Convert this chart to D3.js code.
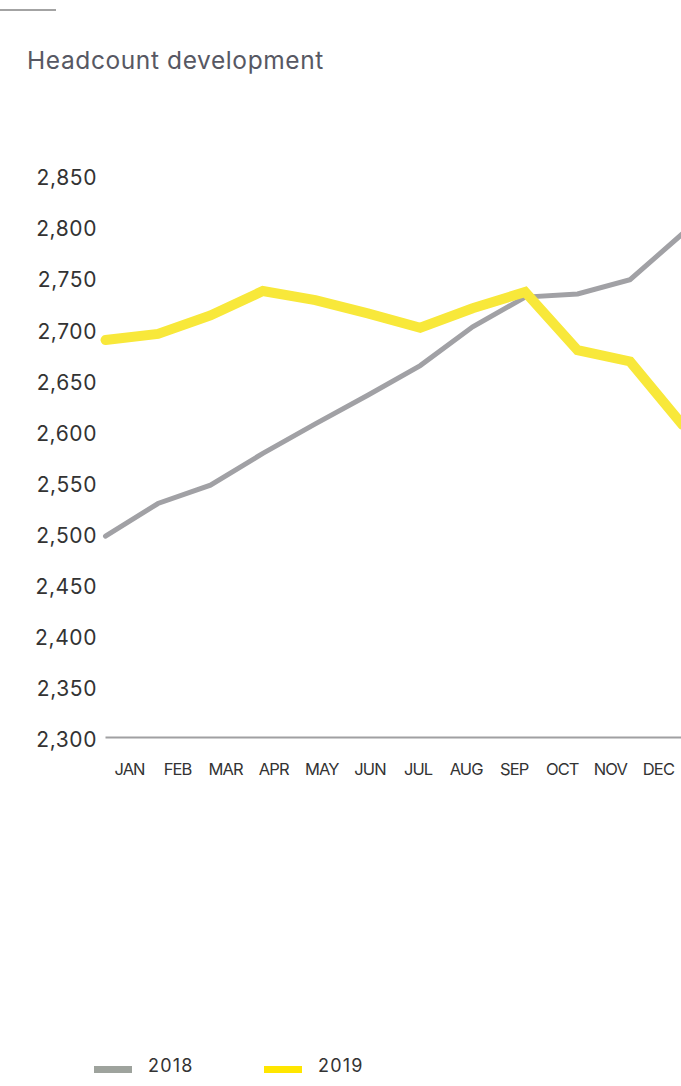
<!DOCTYPE html>
<html>
<head>
<meta charset="utf-8">
<script src="https://cdn.jsdelivr.net/npm/d3@7"></script>
<style>
  html, body { margin: 0; padding: 0; background: #ffffff; overflow: hidden; }
  svg { display: block; }
  text { font-family: Inter, "Noto Sans", sans-serif; }
</style>
</head>
<body>
<svg id="chart" width="681" height="1086"></svg>
<script>
// Monthly headcount, two years
const months = ["JAN", "FEB", "MAR", "APR", "MAY", "JUN", "JUL", "AUG", "SEP", "OCT", "NOV", "DEC"];
const headcount2018 = [2497, 2529, 2547, 2578, 2607, 2635, 2664, 2702, 2731, 2734, 2748, 2793];
const headcount2019 = [2689, 2695, 2713, 2737, 2728, 2715, 2701, 2720, 2736, 2679, 2668, 2606];
const yTicks = [2300, 2350, 2400, 2450, 2500, 2550, 2600, 2650, 2700, 2750, 2800, 2850];
const seriesNames = ["2018", "2019"];

const svg = d3.select("#chart");

// Plot extent
const left = 105.5, right = 682.5;
const yTop = 175.5, yBottom = 737.5;

const x = d3.scalePoint().domain(months).range([left, right]);
const xBand = d3.scaleBand().domain(months).range([left, right]);
const y = d3.scaleLinear().domain([2300, 2850]).range([yBottom, yTop]);

// Short rule at the top-left corner
svg.append("line")
  .attr("x1", 0).attr("x2", 56).attr("y1", 10).attr("y2", 10)
  .attr("stroke", "#a3a3a3").attr("stroke-width", 2);

// Title
svg.append("text")
  .attr("x", 27).attr("y", 69)
  .attr("font-size", 24.5)
  .attr("letter-spacing", 0.6)
  .attr("fill", "#575863")
  .text("Headcount development");

// Y axis labels
const yAxis = d3.axisLeft(y).tickValues(yTicks).tickFormat(d3.format(",")).tickSize(0).tickPadding(0);
const gy = svg.append("g").attr("transform", "translate(97,2.5)").call(yAxis);
gy.select(".domain").remove();
gy.selectAll("text")
  .attr("font-size", 21)
  .attr("letter-spacing", 0.6)
  .attr("fill", "#333333")
  .attr("font-family", "Inter, sans-serif");

// Baseline
svg.append("line")
  .attr("x1", left).attr("x2", 681).attr("y1", y(2300)).attr("y2", y(2300))
  .attr("stroke", "#a0a0a2").attr("stroke-width", 2);

// Month labels
const xAxis = d3.axisBottom(xBand).tickSize(0).tickPadding(0);
const gx = svg.append("g").attr("transform", "translate(0,763)").call(xAxis);
gx.select(".domain").remove();
gx.selectAll("text")
  .attr("font-size", 16.5)
  .attr("fill", "#333333")
  .attr("letter-spacing", -0.9)
  .attr("font-family", "Inter, sans-serif");

// Lines
const line = d3.line().x((d, i) => x(months[i])).y(d => y(d));

svg.append("path")
  .datum(headcount2018)
  .attr("d", line)
  .attr("fill", "none")
  .attr("stroke", "#a1a1a5")
  .attr("stroke-width", 5)
  .attr("stroke-linecap", "round")
  .attr("stroke-linejoin", "miter");

svg.append("path")
  .datum(headcount2019)
  .attr("d", line)
  .attr("fill", "none")
  .attr("stroke", "#f8e83a")
  .attr("stroke-width", 10)
  .attr("stroke-linecap", "round")
  .attr("stroke-linejoin", "miter");

// Legend
const legendColors = ["#9ea39d", "#ffe600"];
const legendX = [94, 264];
const lg = svg.append("g");
seriesNames.forEach((name, i) => {
  lg.append("rect")
    .attr("x", legendX[i]).attr("y", 1066).attr("width", 38).attr("height", 7)
    .attr("fill", legendColors[i]);
  lg.append("text")
    .attr("x", legendX[i] + 54).attr("y", 1072)
    .attr("font-size", 18)
    .attr("letter-spacing", 1.2)
    .attr("fill", "#333333")
    .text(name);
});
</script>
</body>
</html>
